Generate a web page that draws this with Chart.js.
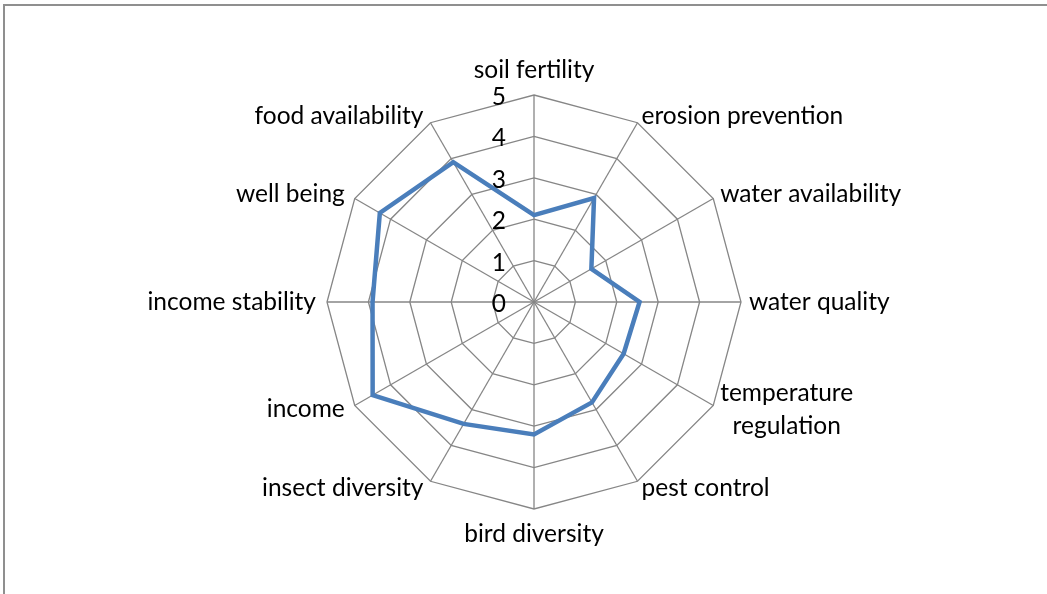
<!DOCTYPE html>
<html>
<head>
<meta charset="utf-8">
<script src="https://cdn.jsdelivr.net/npm/chart.js@4.4.0/dist/chart.umd.min.js"></script>
<style>
  html, body { margin: 0; padding: 0; background: #fff; overflow: hidden; }
  #frame {
    position: absolute; left: 3px; top: 4px; width: 1100px; height: 700px;
    border-top: 2px solid #8f8f8f; border-left: 2px solid #8f8f8f;
  }
  #wrap { position: absolute; left: 0; top: 0; width: 1047px; height: 594px; }
</style>
</head>
<body>
<div id="frame"></div>
<div id="wrap"><canvas id="myChart"></canvas></div>
<script>
// categories and values
const categories = [
  'soil fertility', 'erosion prevention', 'water availability', 'water quality',
  ['temperature', 'regulation'], 'pest control', 'bird diversity', 'insect diversity',
  'income', 'income stability', 'well being', 'food availability'
];
const scores = [2.1, 2.9, 1.6, 2.55, 2.5, 2.8, 3.2, 3.4, 4.5, 3.9, 4.3, 3.9];
const tickValues = [0, 1, 2, 3, 4, 5];

const FONT = 'Lato, "Open Sans", sans-serif';
const FONT_SIZE = 24.5;
const LINE_H = 33;

// Excel-style labels: ticks left of the vertical axis, category names beside each spoke end
const excelLabels = {
  id: 'excelLabels',
  afterDraw(chart) {
    const r = chart.scales.r;
    const ctx = chart.ctx;
    ctx.save();
    ctx.font = FONT_SIZE + 'px ' + FONT;
    ctx.fillStyle = '#000';

    ctx.textAlign = 'right';
    ctx.textBaseline = 'middle';
    tickValues.forEach(v => {
      const y = r.yCenter - r.getDistanceFromCenterForValue(v);
      ctx.fillText(String(v), r.xCenter - 28, y + 2);
    });

    chart.data.labels.forEach((label, i) => {
      const p = r.getPointPosition(i, r.drawingArea + 8);
      const lines = Array.isArray(label) ? label : [label];
      const dx = p.x - r.xCenter;
      const dy = p.y - r.yCenter;
      let x = p.x, y = p.y;
      if (Math.abs(dx) < 1) {
        ctx.textAlign = 'center';
        y += dy < 0 ? -17 - (lines.length - 1) * LINE_H : 17;
      } else {
        ctx.textAlign = 'left';
        if (dx < 0) { ctx.textAlign = 'right'; x -= 3; }
        y -= (lines.length - 1) * LINE_H / 2;
      }
      lines.forEach((ln, k) => {
        let lx = x;
        if (lines.length > 1 && ctx.textAlign === 'left') {
          // centre each line within the block
          const w = Math.max(...lines.map(s => ctx.measureText(s).width));
          ctx.textAlign = 'center';
          lx = x + w / 2;
          ctx.fillText(ln, lx, y + k * LINE_H);
          ctx.textAlign = 'left';
        } else {
          ctx.fillText(ln, lx, y + k * LINE_H);
        }
      });
    });
    ctx.restore();
  }
};

const ctx = document.getElementById('myChart');

new Chart(ctx, {
  type: 'radar',
  data: {
    labels: categories,
    datasets: [{
      label: 'scores',
      data: scores,
      borderColor: '#4a7ebb',
      borderWidth: 4.5,
      pointRadius: 0,
      fill: false,
      tension: 0
    }]
  },
  options: {
    responsive: true,
    maintainAspectRatio: false,
    animation: false,
    layout: { padding: { top: 95, bottom: 84, left: 21, right: 0 } },
    plugins: { legend: { display: false }, tooltip: { enabled: false } },
    scales: {
      r: {
        min: 0,
        max: 5,
        ticks: { stepSize: 1, display: false },
        grid: { color: '#868686', lineWidth: 1.3 },
        angleLines: { color: '#868686', lineWidth: 1.3 },
        pointLabels: { display: false }
      }
    }
  },
  plugins: [excelLabels]
});
</script>
</body>
</html>
